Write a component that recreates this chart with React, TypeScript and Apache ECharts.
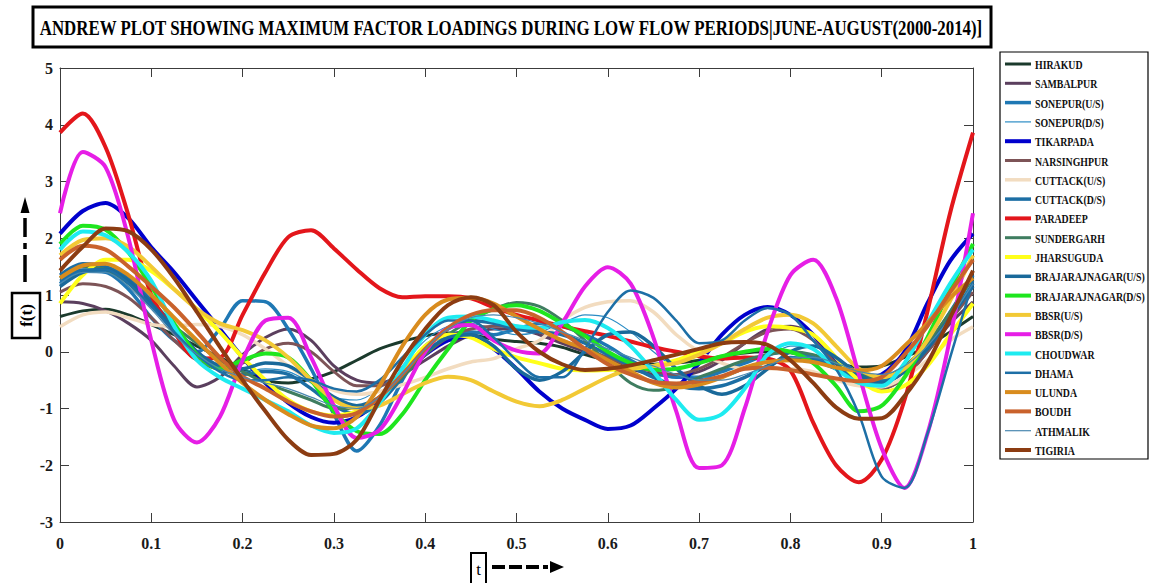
import React, { useEffect, useRef } from "react";
import * as echarts from "echarts";

const TITLE = "ANDREW PLOT SHOWING MAXIMUM FACTOR LOADINGS DURING LOW FLOW PERIODS|JUNE-AUGUST(2000-2014)]";

const T = [0, 0.025, 0.05, 0.075, 0.1, 0.125, 0.15, 0.175, 0.2, 0.225, 0.25, 0.275, 0.3, 0.325, 0.35, 0.375, 0.4, 0.425, 0.45, 0.475, 0.5, 0.525, 0.55, 0.575, 0.6, 0.625, 0.65, 0.675, 0.7, 0.725, 0.75, 0.775, 0.8, 0.825, 0.85, 0.875, 0.9, 0.925, 0.95, 0.975, 1];

const HIRAKUD = [0.62, 0.72, 0.75, 0.65, 0.48, 0.3, 0.1, -0.1, -0.3, -0.5, -0.55, -0.48, -0.35, -0.15, 0.05, 0.18, 0.28, 0.33, 0.3, 0.22, 0.18, 0.15, 0.08, -0.05, -0.15, -0.2, -0.22, -0.2, -0.15, -0.08, -0.02, 0.0, -0.02, -0.1, -0.2, -0.27, -0.25, -0.1, 0.1, 0.35, 0.62];
const SAMBALPUR = [0.88, 0.85, 0.72, 0.5, 0.2, -0.25, -0.62, -0.45, -0.05, 0.25, 0.4, 0.2, -0.25, -0.5, -0.55, -0.4, -0.15, 0.1, 0.3, 0.4, 0.4, 0.3, 0.15, 0.0, -0.15, -0.3, -0.4, -0.42, -0.35, -0.15, 0.15, 0.4, 0.45, 0.3, -0.1, -0.5, -0.65, -0.45, 0.0, 0.5, 0.88];
const SONEPUR_US = [1.2, 1.42, 1.4, 1.1, 0.6, 0.2, 0.0, 0.4, 0.9, 0.88, 0.4, -0.3, -1.1, -1.75, -1.3, -0.5, 0.1, 0.3, 0.35, 0.3, 0.4, 0.5, 0.45, 0.3, 0.1, -0.15, -0.35, -0.45, -0.45, -0.35, -0.2, -0.05, 0.0, -0.1, -0.3, -0.5, -0.55, -0.35, 0.05, 0.6, 1.2];
const SONEPUR_DS = [1.3, 1.5, 1.48, 1.25, 0.85, 0.4, 0.0, -0.25, -0.35, -0.3, -0.35, -0.55, -0.8, -0.85, -0.65, -0.25, 0.2, 0.45, 0.5, 0.4, 0.3, 0.35, 0.5, 0.65, 0.6, 0.35, 0.0, -0.3, -0.45, -0.45, -0.3, -0.1, 0.1, 0.1, -0.1, -0.35, -0.5, -0.35, 0.05, 0.65, 1.3];
const TIKARPADA = [2.08, 2.48, 2.62, 2.35, 1.84, 1.4, 0.9, 0.4, -0.1, -0.55, -0.9, -1.15, -1.25, -1.15, -0.85, -0.4, -0.05, 0.2, 0.27, 0.05, -0.3, -0.7, -1.0, -1.2, -1.36, -1.3, -1.0, -0.65, -0.2, 0.3, 0.65, 0.79, 0.65, 0.3, -0.2, -0.48, -0.4, 0.0, 0.85, 1.6, 2.08];
const NARSINGHPUR = [1.05, 1.2, 1.15, 0.95, 0.6, 0.2, -0.15, -0.3, -0.2, 0.05, 0.15, 0.0, -0.35, -0.6, -0.6, -0.4, -0.05, 0.25, 0.4, 0.45, 0.45, 0.35, 0.2, 0.05, -0.1, -0.25, -0.35, -0.4, -0.3, -0.1, 0.15, 0.35, 0.4, 0.2, -0.2, -0.55, -0.65, -0.45, 0.0, 0.55, 1.05];
const CUTTACK_US = [0.44, 0.65, 0.7, 0.6, 0.48, 0.45, 0.48, 0.45, 0.3, 0.05, -0.25, -0.5, -0.68, -0.75, -0.7, -0.58, -0.45, -0.3, -0.18, -0.12, 0.05, 0.2, 0.55, 0.78, 0.88, 0.9, 0.7, 0.3, 0.0, -0.2, -0.3, -0.3, -0.3, -0.35, -0.5, -0.6, -0.62, -0.45, -0.15, 0.2, 0.44];
const CUTTACK_DS = [1.35, 1.55, 1.5, 1.3, 0.9, 0.45, 0.0, -0.3, -0.4, -0.35, -0.4, -0.65, -0.95, -1.1, -0.9, -0.45, 0.05, 0.4, 0.55, 0.5, 0.4, 0.35, 0.3, 0.15, -0.05, -0.25, -0.45, -0.6, -0.65, -0.6, -0.45, -0.25, -0.1, -0.15, -0.3, -0.45, -0.5, -0.3, 0.1, 0.7, 1.35];
const PARADEEP = [3.86, 4.2, 3.6, 2.4, 1.0, 0.35, -0.12, -0.1, 0.65, 1.4, 2.02, 2.14, 1.82, 1.45, 1.12, 0.96, 0.98, 0.98, 0.94, 0.78, 0.65, 0.55, 0.45, 0.36, 0.28, 0.18, 0.08, 0.0, -0.08, -0.12, -0.1, -0.12, -0.33, -1.25, -2.0, -2.3, -1.9, -0.85, 0.7, 2.45, 3.86];
const SUNDERGARH = [1.3, 1.5, 1.45, 1.2, 0.8, 0.45, 0.15, -0.15, -0.35, -0.55, -0.7, -0.85, -1.0, -1.0, -0.8, -0.45, -0.05, 0.3, 0.55, 0.75, 0.87, 0.8, 0.55, 0.2, -0.2, -0.55, -0.68, -0.62, -0.45, -0.3, -0.15, -0.05, 0.0, -0.05, -0.2, -0.4, -0.45, -0.25, 0.15, 0.7, 1.3];
const JHARSUGUDA = [0.85, 1.35, 1.62, 1.62, 1.42, 1.1, 0.75, 0.35, -0.1, -0.5, -0.85, -1.05, -1.12, -1.05, -0.8, -0.35, 0.1, 0.3, 0.25, 0.05, -0.1, -0.2, -0.3, -0.33, -0.32, -0.3, -0.25, -0.15, 0.0, 0.15, 0.35, 0.45, 0.42, 0.3, -0.1, -0.5, -0.7, -0.6, -0.25, 0.3, 0.85];
const BRAJ_US = [1.15, 1.4, 1.45, 1.25, 0.85, 0.4, 0.0, -0.25, -0.3, -0.2, -0.25, -0.5, -0.8, -0.95, -0.8, -0.4, 0.0, 0.25, 0.3, 0.1, -0.3, -0.5, -0.35, 0.0, 0.3, 0.35, 0.1, -0.3, -0.6, -0.75, -0.6, -0.3, 0.0, 0.1, -0.1, -0.4, -0.55, -0.35, 0.05, 0.6, 1.15];
const BRAJ_DS = [1.9, 2.22, 2.15, 1.75, 1.15, 0.5, -0.05, -0.3, -0.15, -0.03, -0.1, -0.5, -1.05, -1.4, -1.45, -1.1, -0.5, 0.05, 0.55, 0.75, 0.82, 0.72, 0.5, 0.28, 0.0, -0.2, -0.32, -0.3, -0.2, -0.08, 0.0, 0.05, 0.0, -0.2, -0.6, -1.05, -0.95, -0.45, 0.25, 1.1, 1.9];
const BBSR_US = [1.7, 1.97, 2.0, 1.85, 1.5, 1.1, 0.75, 0.5, 0.38, 0.2, -0.1, -0.5, -0.85, -1.0, -0.95, -0.75, -0.55, -0.44, -0.5, -0.7, -0.88, -0.96, -0.85, -0.65, -0.45, -0.3, -0.25, -0.2, -0.05, 0.15, 0.4, 0.6, 0.65, 0.5, 0.1, -0.3, -0.45, -0.3, 0.2, 0.9, 1.7];
const BBSR_DS = [2.44, 3.52, 3.25, 2.0, 0.2, -1.2, -1.6, -1.15, -0.15, 0.55, 0.6, -0.1, -0.95, -1.52, -1.38, -0.75, 0.0, 0.42, 0.47, 0.2, 0.02, -0.03, 0.5, 1.15, 1.49, 1.2, 0.25, -1.05, -2.05, -2.0, -1.0, 0.35, 1.35, 1.62, 0.95, -0.4, -1.7, -2.4, -1.45, 0.25, 2.44];
const CHOUDWAR = [1.8, 2.12, 2.05, 1.75, 1.25, 0.45, -0.15, -0.45, -0.65, -0.85, -1.05, -1.3, -1.43, -1.35, -0.9, -0.3, 0.3, 0.6, 0.62, 0.55, 0.45, 0.42, 0.52, 0.56, 0.42, 0.1, -0.35, -0.85, -1.2, -1.1, -0.65, -0.05, 0.15, 0.05, -0.3, -0.55, -0.6, -0.2, 0.5, 1.2, 1.8];
const DHAMA = [1.25, 1.45, 1.45, 1.2, 0.8, 0.35, -0.05, -0.35, -0.5, -0.5, -0.45, -0.5, -0.65, -0.7, -0.5, -0.1, 0.3, 0.55, 0.55, 0.25, -0.15, -0.45, -0.45, 0.05, 0.7, 1.08, 0.95, 0.55, 0.15, 0.2, 0.55, 0.77, 0.65, 0.2, -0.3, -1.1, -2.2, -2.4, -1.45, -0.1, 1.25];
const ULUNDA = [1.3, 1.52, 1.55, 1.35, 1.0, 0.6, 0.2, -0.2, -0.55, -0.85, -1.1, -1.3, -1.35, -1.15, -0.6, 0.1, 0.65, 0.92, 0.95, 0.85, 0.62, 0.4, 0.2, 0.05, -0.15, -0.35, -0.55, -0.63, -0.58, -0.45, -0.28, -0.18, -0.15, -0.18, -0.28, -0.33, -0.25, 0.1, 0.5, 0.95, 1.3];
const BOUDH = [1.62, 1.87, 1.8, 1.5, 1.15, 0.78, 0.35, -0.1, -0.44, -0.65, -0.88, -1.05, -1.14, -1.08, -0.8, -0.4, 0.05, 0.42, 0.65, 0.73, 0.73, 0.6, 0.35, 0.05, -0.22, -0.4, -0.53, -0.56, -0.52, -0.43, -0.3, -0.28, -0.32, -0.4, -0.47, -0.52, -0.45, -0.05, 0.45, 1.05, 1.62];
const ATHMALIK = [1.2, 1.4, 1.4, 1.15, 0.75, 0.3, -0.05, -0.3, -0.45, -0.55, -0.65, -0.8, -0.95, -1.0, -0.8, -0.4, 0.05, 0.4, 0.6, 0.65, 0.6, 0.5, 0.35, 0.2, 0.05, -0.1, -0.25, -0.4, -0.5, -0.5, -0.4, -0.25, -0.1, -0.1, -0.2, -0.35, -0.4, -0.25, 0.1, 0.6, 1.2];
const TIGIRIA = [1.43, 1.85, 2.17, 2.12, 1.8, 1.3, 0.7, 0.09, -0.5, -1.05, -1.55, -1.82, -1.8, -1.55, -0.85, -0.15, 0.4, 0.82, 0.96, 0.82, 0.35, 0.0, -0.22, -0.32, -0.3, -0.24, -0.15, -0.05, 0.05, 0.15, 0.17, 0.12, -0.15, -0.55, -0.98, -1.18, -1.17, -0.78, -0.2, 0.6, 1.43];

const NAMES = ["HIRAKUD", "SAMBALPUR", "SONEPUR(U/S)", "SONEPUR(D/S)", "TIKARPADA", "NARSINGHPUR", "CUTTACK(U/S)", "CUTTACK(D/S)", "PARADEEP", "SUNDERGARH", "JHARSUGUDA", "BRAJARAJNAGAR(U/S)", "BRAJARAJNAGAR(D/S)", "BBSR(U/S)", "BBSR(D/S)", "CHOUDWAR", "DHAMA", "ULUNDA", "BOUDH", "ATHMALIK", "TIGIRIA"];
const VALUES = [HIRAKUD, SAMBALPUR, SONEPUR_US, SONEPUR_DS, TIKARPADA, NARSINGHPUR, CUTTACK_US, CUTTACK_DS, PARADEEP, SUNDERGARH, JHARSUGUDA, BRAJ_US, BRAJ_DS, BBSR_US, BBSR_DS, CHOUDWAR, DHAMA, ULUNDA, BOUDH, ATHMALIK, TIGIRIA];
const COLORS = ["#1b3a2c", "#5b3f5e", "#1f78b4", "#2b8cc4", "#0000cd", "#7d5457", "#f2dcc0", "#1c6ea4", "#e3161b", "#3f7d60", "#ffff1a", "#19699a", "#1ee61e", "#f2c935", "#e61ee6", "#1eebf0", "#1d6fa6", "#d98c1e", "#c9622c", "#4a88b0", "#8c3c12"];
const WIDTHS = [3, 3, 3.5, 1.2, 4, 3, 3.5, 3.5, 4, 3, 4, 3.5, 4, 4, 4, 4, 2.5, 4, 4, 1.2, 4];

const SERIF = '"Liberation Serif", "Times New Roman", serif';

function measure(text: string, font: string): number {
  const c = document.createElement("canvas").getContext("2d");
  if (!c) return text.length * 10;
  c.font = font;
  return c.measureText(text).width;
}

export default function App() {
  const ref = useRef<HTMLDivElement>(null);
  useEffect(() => {
    document.body.style.margin = "0";
    if (!ref.current) return;
    const chart = echarts.init(ref.current, null, { renderer: "svg" });

    const titleFont = `bold 22px ${SERIF}`;
    const titleScale = 944 / measure(TITLE, titleFont);
    const legFont = `bold 13px ${SERIF}`;
    const legScale = Math.min(49 / measure("HIRAKUD", legFont), 110 / measure("BRAJARAJNAGAR(D/S)", legFont));

    const axisLineStyle = { color: "#3c3c3c", width: 1 };
    const labelStyle = { fontFamily: SERIF, fontWeight: "bold" as const, fontSize: 16, color: "#1a1a1a" };

    const graphics: any[] = [
      { type: "rect", shape: { x: 33, y: 7, width: 958, height: 40 }, style: { fill: "#fff", stroke: "#000", lineWidth: 3 } },
      { type: "text", x: 511, y: 28, scaleX: titleScale, style: { text: TITLE, font: titleFont, fill: "#000", align: "center", verticalAlign: "middle" } },
      { type: "rect", shape: { x: 1000, y: 52, width: 148, height: 407 }, style: { fill: "#fff", stroke: "#000", lineWidth: 1.2 } },
      { type: "rect", shape: { x: 12, y: 293, width: 28, height: 45 }, style: { fill: "#fff", stroke: "#000", lineWidth: 2.5 } },
      { type: "text", x: 26, y: 315.5, rotation: Math.PI / 2, style: { text: "f(t)", font: `bold 17px ${SERIF}`, fill: "#000", align: "center", verticalAlign: "middle" } },
      { type: "polygon", shape: { points: [[25, 197], [20.5, 213], [29.5, 213]] }, style: { fill: "#000" } },
      { type: "line", shape: { x1: 25, y1: 218, x2: 25, y2: 237 }, style: { stroke: "#000", lineWidth: 3.5 } },
      { type: "line", shape: { x1: 25, y1: 243, x2: 25, y2: 249 }, style: { stroke: "#000", lineWidth: 3.5 } },
      { type: "line", shape: { x1: 25, y1: 255, x2: 25, y2: 282 }, style: { stroke: "#000", lineWidth: 3.5 } },
      { type: "rect", shape: { x: 471, y: 553, width: 15, height: 34 }, style: { fill: "#fff", stroke: "#000", lineWidth: 2 } },
      { type: "text", x: 478.5, y: 569, style: { text: "t", font: `17px ${SERIF}`, fill: "#000000", align: "center", verticalAlign: "middle" } },
      { type: "line", shape: { x1: 492, y1: 567, x2: 505, y2: 567 }, style: { stroke: "#000", lineWidth: 4 } },
      { type: "line", shape: { x1: 509, y1: 567, x2: 522, y2: 567 }, style: { stroke: "#000", lineWidth: 4 } },
      { type: "line", shape: { x1: 526, y1: 567, x2: 539, y2: 567 }, style: { stroke: "#000", lineWidth: 4 } },
      { type: "line", shape: { x1: 543, y1: 567, x2: 548, y2: 567 }, style: { stroke: "#000", lineWidth: 4 } },
      { type: "polygon", shape: { points: [[550, 561], [550, 573], [564, 567]] }, style: { fill: "#000" } },
    ];
    NAMES.forEach((name, i) => {
      const y = 64 + i * 19.3;
      graphics.push({ type: "line", shape: { x1: 1005, y1: y, x2: 1031, y2: y }, style: { stroke: COLORS[i], lineWidth: Math.max(WIDTHS[i], 1.2) } });
      graphics.push({ type: "text", x: 1035, y: y + 0.5, scaleX: legScale, style: { text: name, font: legFont, fill: "#111", align: "left", verticalAlign: "middle" } });
    });

    const series = VALUES.map((vals, i) => ({
      name: NAMES[i],
      type: "line",
      xAxisIndex: 0,
      yAxisIndex: 0,
      smooth: 0.3,
      showSymbol: false,
      symbol: "none",
      data: T.map((t, k) => [t, vals[k]]),
      lineStyle: { color: COLORS[i], width: WIDTHS[i] },
      itemStyle: { color: COLORS[i] },
      z: 2,
    }));

    const option: any = {
      animation: false,
      backgroundColor: "#fff",
      grid: { left: 60, top: 68, right: 177, bottom: 61, containLabel: false },
      xAxis: [
        {
          type: "value", min: 0, max: 1, interval: 0.1, position: "bottom",
          axisLine: { show: true, onZero: false, lineStyle: axisLineStyle },
          axisTick: { show: true, inside: true, length: 9, lineStyle: axisLineStyle },
          axisLabel: { ...labelStyle, margin: 13, showMaxLabel: true, showMinLabel: true },
          splitLine: { show: false },
        },
        {
          type: "value", min: 0, max: 1, interval: 0.1, position: "top",
          axisLine: { show: true, onZero: false, lineStyle: axisLineStyle },
          axisTick: { show: true, inside: true, length: 9, lineStyle: axisLineStyle },
          axisLabel: { show: false },
          splitLine: { show: false },
        },
      ],
      yAxis: [
        {
          type: "value", min: -3, max: 5, interval: 1, position: "left",
          axisLine: { show: true, onZero: false, lineStyle: axisLineStyle },
          axisTick: { show: true, inside: true, length: 9, lineStyle: axisLineStyle },
          axisLabel: { ...labelStyle, margin: 7 },
          splitLine: { show: false },
        },
        {
          type: "value", min: -3, max: 5, interval: 1, position: "right",
          axisLine: { show: true, onZero: false, lineStyle: axisLineStyle },
          axisTick: { show: true, inside: true, length: 9, lineStyle: axisLineStyle },
          axisLabel: { show: false },
          splitLine: { show: false },
        },
      ],
      series,
      graphic: { elements: graphics },
    };
    chart.setOption(option);
    return () => chart.dispose();
  }, []);
  return <div ref={ref} style={{ width: 1150, height: 583 }} />;
}
